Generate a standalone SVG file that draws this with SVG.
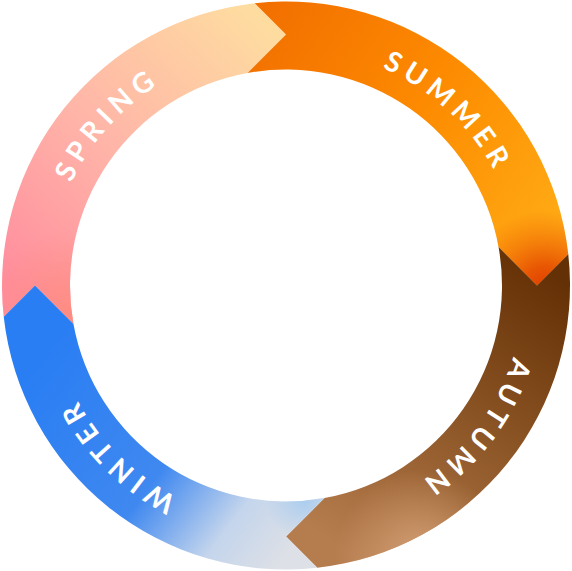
<svg xmlns="http://www.w3.org/2000/svg" xmlns:xlink="http://www.w3.org/1999/xlink" width="572" height="571" viewBox="0 0 572 571">
<defs>
<style>
.lbl{font-family:Lato,"Open Sans","Liberation Sans",sans-serif;font-weight:700;font-size:28px;fill:#ffffff;letter-spacing:6px;}
</style>
<linearGradient id="gSpring" gradientUnits="userSpaceOnUse" x1="20" y1="290" x2="270" y2="30">
<stop offset="0" stop-color="#ff8e9e"/>
<stop offset="0.45" stop-color="#ffb4a8"/>
<stop offset="1" stop-color="#fedca0"/>
</linearGradient>
<radialGradient id="gSpring2" gradientUnits="userSpaceOnUse" cx="70" cy="320" r="90">
<stop offset="0" stop-color="#fd8a78" stop-opacity="0.8"/>
<stop offset="1" stop-color="#fd8a78" stop-opacity="0"/>
</radialGradient>
<linearGradient id="gSummer" gradientUnits="userSpaceOnUse" x1="260" y1="20" x2="560" y2="220">
<stop offset="0" stop-color="#f27000"/>
<stop offset="0.5" stop-color="#fd8a00"/>
<stop offset="1" stop-color="#ffaa14"/>
</linearGradient>
<radialGradient id="gSummer2" gradientUnits="userSpaceOnUse" cx="545" cy="290" r="80">
<stop offset="0" stop-color="#e03a00" stop-opacity="1"/>
<stop offset="0.3" stop-color="#e44800" stop-opacity="0.85"/>
<stop offset="1" stop-color="#f06000" stop-opacity="0"/>
</radialGradient>
<linearGradient id="gAutumn" gradientUnits="userSpaceOnUse" x1="545" y1="270" x2="360" y2="560">
<stop offset="0" stop-color="#643005"/>
<stop offset="0.5" stop-color="#8d5626"/>
<stop offset="1" stop-color="#b57c4e"/>
</linearGradient>
<radialGradient id="gAutumn2" gradientUnits="userSpaceOnUse" cx="420" cy="555" r="85">
<stop offset="0" stop-color="#dca97f" stop-opacity="0.8"/>
<stop offset="1" stop-color="#dca97f" stop-opacity="0"/>
</radialGradient>
<linearGradient id="gWinter" gradientUnits="userSpaceOnUse" x1="40" y1="360" x2="290" y2="550">
<stop offset="0" stop-color="#2a7ef3"/>
<stop offset="0.52" stop-color="#3f88f0"/>
<stop offset="0.8" stop-color="#c4d5ec"/>
<stop offset="1" stop-color="#dde0e6"/>
</linearGradient>
<radialGradient id="gWinter2" gradientUnits="userSpaceOnUse" cx="305" cy="500" r="40">
<stop offset="0" stop-color="#a6cbf0" stop-opacity="0.9"/>
<stop offset="1" stop-color="#a6cbf0" stop-opacity="0"/>
</radialGradient>
<path id="ring" d="M286,47.5 A238,238 0 1 1 286,523.5 A238,238 0 1 1 286,47.5"/>
</defs>
<g id="spring">
<path d="M3.73,316.77 A284,284 0 0 1 254.73,3.23 L286,34.5 L247.55,72.95 A216,216 0 0 0 73.45,323.95 L35,285.5 Z" fill="url(#gSpring)"/>
<path d="M3.73,316.77 A284,284 0 0 1 254.73,3.23 L286,34.5 L247.55,72.95 A216,216 0 0 0 73.45,323.95 L35,285.5 Z" fill="url(#gSpring2)"/>
<text class="lbl"><textPath xlink:href="#ring" startOffset="1227">SPRING</textPath></text>
</g>
<g id="summer">
<path d="M254.73,3.23 A284,284 0 0 1 568.27,254.23 L537,285.5 L498.55,247.05 A216,216 0 0 0 247.55,72.95 L286,34.5 Z" fill="url(#gSummer)"/>
<path d="M254.73,3.23 A284,284 0 0 1 568.27,254.23 L537,285.5 L498.55,247.05 A216,216 0 0 0 247.55,72.95 L286,34.5 Z" fill="url(#gSummer2)"/>
<text class="lbl"><textPath xlink:href="#ring" startOffset="99">SUMMER</textPath></text>
</g>
<g id="autumn">
<path d="M568.27,254.23 A284,284 0 0 1 317.27,567.77 L286,536.5 L324.45,498.05 A216,216 0 0 0 498.55,247.05 L537,285.5 Z" fill="url(#gAutumn)"/>
<path d="M568.27,254.23 A284,284 0 0 1 317.27,567.77 L286,536.5 L324.45,498.05 A216,216 0 0 0 498.55,247.05 L537,285.5 Z" fill="url(#gAutumn2)"/>
<text class="lbl"><textPath xlink:href="#ring" startOffset="446">AUTUMN</textPath></text>
</g>
<g id="winter">
<path d="M317.27,567.77 A284,284 0 0 1 3.73,316.77 L35,285.5 L73.45,323.95 A216,216 0 0 0 324.45,498.05 L286,536.5 Z" fill="url(#gWinter)"/>
<path d="M317.27,567.77 A284,284 0 0 1 3.73,316.77 L35,285.5 L73.45,323.95 A216,216 0 0 0 324.45,498.05 L286,536.5 Z" fill="url(#gWinter2)"/>
<text class="lbl"><textPath xlink:href="#ring" startOffset="860">WINTER</textPath></text>
</g>
<g id="connectors"/>
</svg>
